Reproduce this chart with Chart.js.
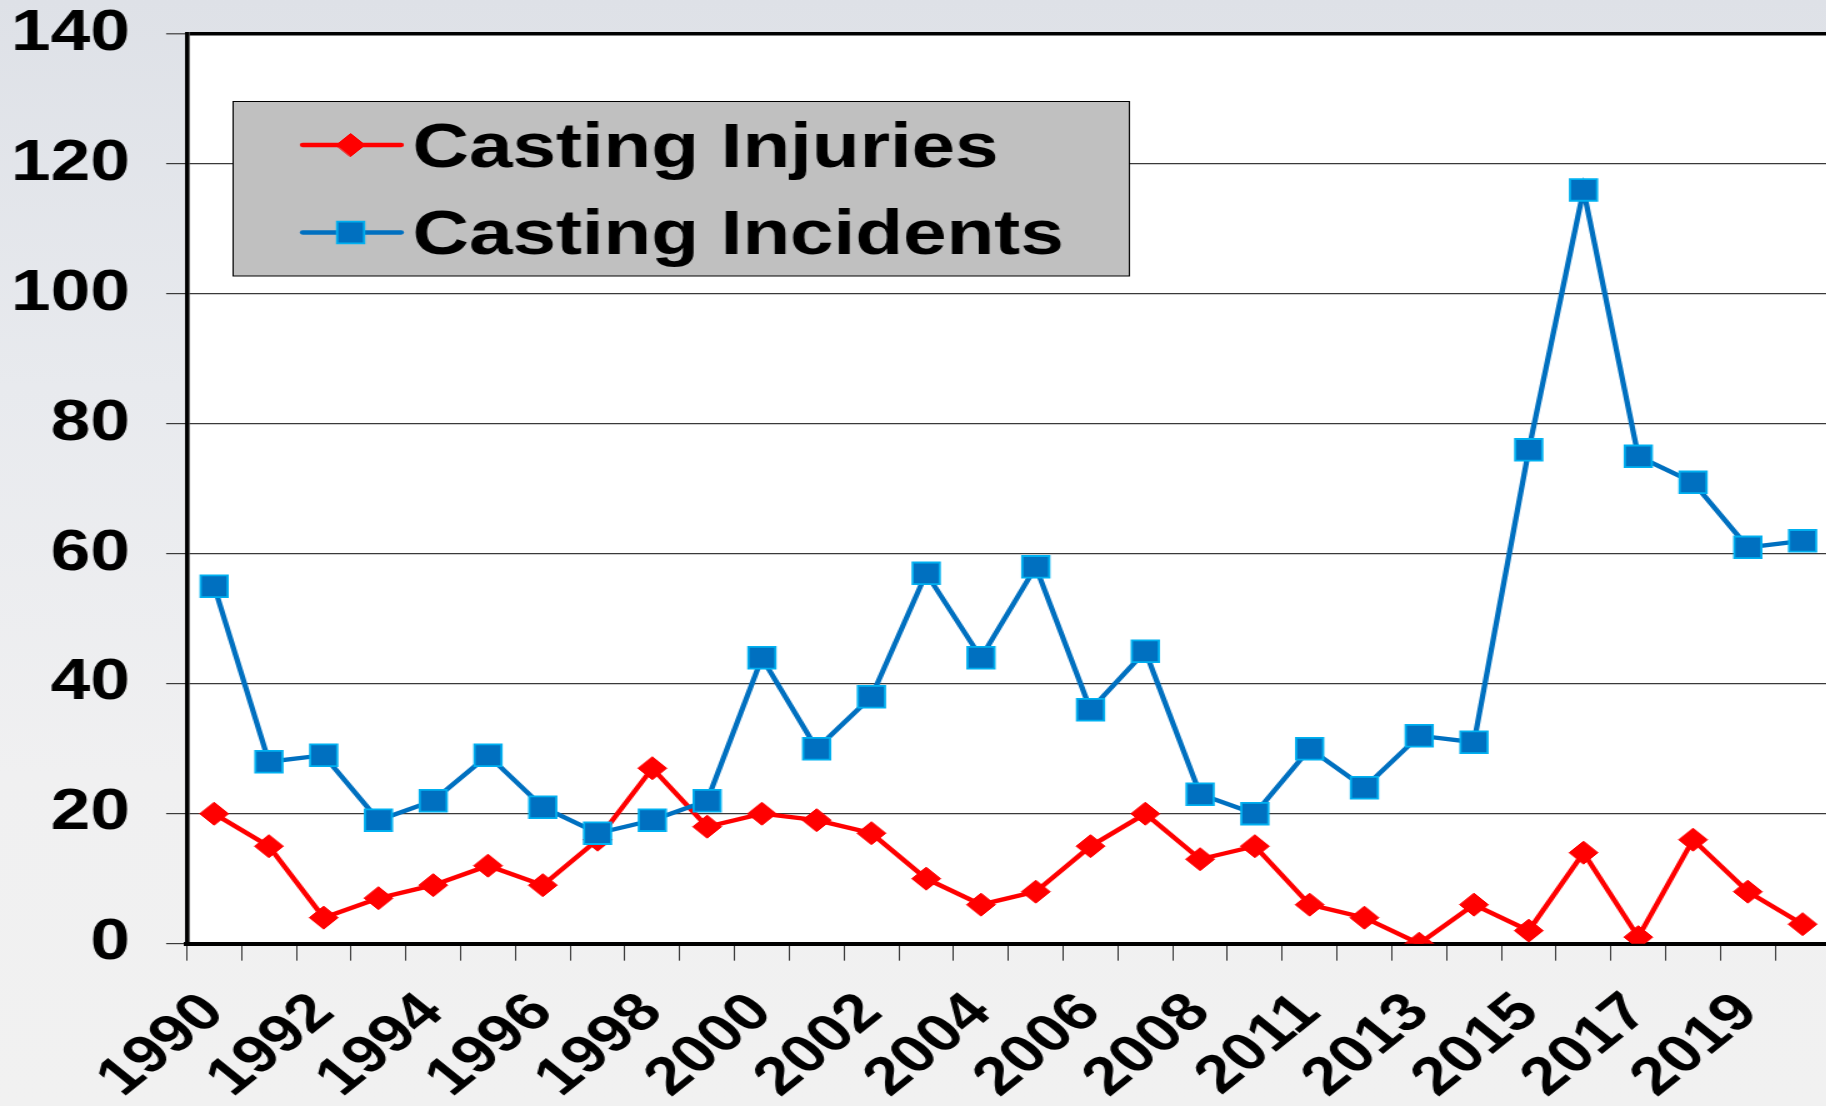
<!DOCTYPE html>
<html lang="en">
<head>
  <meta charset="UTF-8" />
  <title>Casting Injuries and Incidents</title>
  <script src="https://cdn.jsdelivr.net/npm/chart.js@4"></script>
  <style>
    html, body { margin: 0; padding: 0; overflow: hidden; }
    body {
      width: 1826px; height: 1106px; position: relative;
      background: linear-gradient(to bottom, #dee1e7 0%, #e8eaee 35%, #f0f0f1 70%, #f1f1f1 100%);
    }
    #chart { position: absolute; left: 0; top: 0; }
  </style>
</head>
<body>
  <!-- the original picture is stretched sideways (x1.25), so the canvas is too -->
  <canvas id="chart" width="1540" height="1131" style="width:1925px;height:1131px"></canvas>

  <script>
    const years = ['1990','1991','1992','1993','1994','1995','1996','1997','1998','1999',
                   '2000','2001','2002','2003','2004','2005','2006','2007','2008','2010',
                   '2011','2012','2013','2014','2015','2016','2017','2018','2019','2020'];
    const injuries  = [20,15,4,7,9,12,9,16,27,18, 20,19,17,10,6,8,15,20,13,15, 6,4,0,6,2,14,1,16,8,3];
    const incidents = [55,28,29,19,22,29,21,17,19,22, 44,30,38,57,44,58,36,45,23,20, 30,24,32,31,76,116,75,71,61,62];
    const yMin = 0, yMax = 140, yStep = 20;
    const seriesNames = ['Casting Injuries', 'Casting Incidents'];

    Chart.defaults.font.family = '"Liberation Sans", Arial, sans-serif';

    // white plot area
    const plotBg = {
      id: 'plotBg',
      beforeDraw(chart) {
        const a = chart.chartArea, ctx = chart.ctx;
        ctx.save();
        ctx.fillStyle = '#fff';
        ctx.fillRect(a.left, a.top, a.right - a.left, a.bottom - a.top);
        ctx.restore();
      }
    };

    // grey legend box inside the plot, line + marker like the original
    const boxLegend = {
      id: 'boxLegend',
      afterDraw(chart) {
        const ctx = chart.ctx;
        ctx.save();
        ctx.fillStyle = '#c0c0c0';
        ctx.fillRect(186.5, 101.5, 717, 174.5);
        ctx.strokeStyle = '#000';
        ctx.lineWidth = 1;
        ctx.strokeRect(186.5, 101.5, 717, 174.5);

        const rows = [145, 232.5];
        chart.data.datasets.forEach((ds, i) => {
          const y = rows[i];
          ctx.strokeStyle = ds.borderColor;
          ctx.lineWidth = ds.borderWidth;
          ctx.lineCap = 'round';
          ctx.beginPath();
          ctx.moveTo(242, y); ctx.lineTo(321, y);
          ctx.stroke();

          const cx = 280.5, r = ds.pointRadius;
          ctx.fillStyle = ds.pointBackgroundColor;
          ctx.strokeStyle = ds.pointBorderColor;
          ctx.lineWidth = ds.pointBorderWidth;
          ctx.beginPath();
          if (ds.pointStyle === 'rectRot') {
            ctx.moveTo(cx - r, y); ctx.lineTo(cx, y - r);
            ctx.lineTo(cx + r, y); ctx.lineTo(cx, y + r);
            ctx.closePath();
          } else {
            const s = r * Math.SQRT1_2;
            ctx.rect(cx - s, y - s, 2 * s, 2 * s);
          }
          ctx.fill(); ctx.stroke();

          ctx.fillStyle = '#000';
          ctx.font = 'bold 62.5px "Liberation Sans", Arial, sans-serif';
          ctx.textAlign = 'left';
          ctx.textBaseline = 'alphabetic';
          ctx.fillText(ds.label, 330, y + 21.5);
        });
        ctx.restore();
      }
    };

    new Chart(document.getElementById('chart'), {
      type: 'line',
      data: {
        labels: years,
        datasets: [
          {
            label: seriesNames[0], data: injuries, order: 1,
            borderColor: '#ff0000', borderWidth: 4.3, tension: 0,
            pointStyle: 'rectRot', pointRadius: 11.5,
            pointBackgroundColor: '#ff0000', pointBorderColor: '#ff0000', pointBorderWidth: 1
          },
          {
            label: seriesNames[1], data: incidents, order: 0,
            borderColor: '#0070c0', borderWidth: 4.3, tension: 0,
            pointStyle: 'rect', pointRadius: 15.3,
            pointBackgroundColor: '#0070c0', pointBorderColor: '#00b0f0', pointBorderWidth: 1.8
          }
        ]
      },
      options: {
        responsive: false,
        animation: false,
        events: [],
        layout: { padding: { left: 8.8, right: 76, top: 34, bottom: 0 } },
        plugins: { legend: { display: false }, tooltip: { enabled: false } },
        scales: {
          x: {
            offset: true,
            ticks: {
              autoSkip: false, minRotation: 45, maxRotation: 45,
              color: '#000', font: { size: 53, weight: 'bold' }, padding: 21,
              callback: (v, i) => (i % 2 === 0 ? years[i] : '')
            },
            grid: {
              offset: true, drawOnChartArea: false, drawTicks: true,
              tickLength: 17, tickColor: '#333', tickWidth: 1
            },
            border: { color: '#000', width: 4 }
          },
          y: {
            min: yMin, max: yMax,
            ticks: { stepSize: yStep, color: '#000', font: { size: 57, weight: 'bold' }, padding: 29 },
            grid: {
              color: c => (c.tick && c.tick.value === yMax ? '#000' : '#3a3a3a'),
              lineWidth: c => (c.tick && c.tick.value === yMax ? 3.6 : 1.2),
              tickColor: '#3a3a3a', tickWidth: 1.2, tickLength: 16.5
            },
            border: { color: '#000', width: 3.6 },
            // labels + gap + tick mark only, and no extra margin above/below
            afterFit(scale) {
              scale.width = 140.6;
              scale.paddingTop = 0;
              scale.paddingBottom = 0;
            }
          }
        }
      },
      plugins: [plotBg, boxLegend]
    });
  </script>
</body>
</html>
